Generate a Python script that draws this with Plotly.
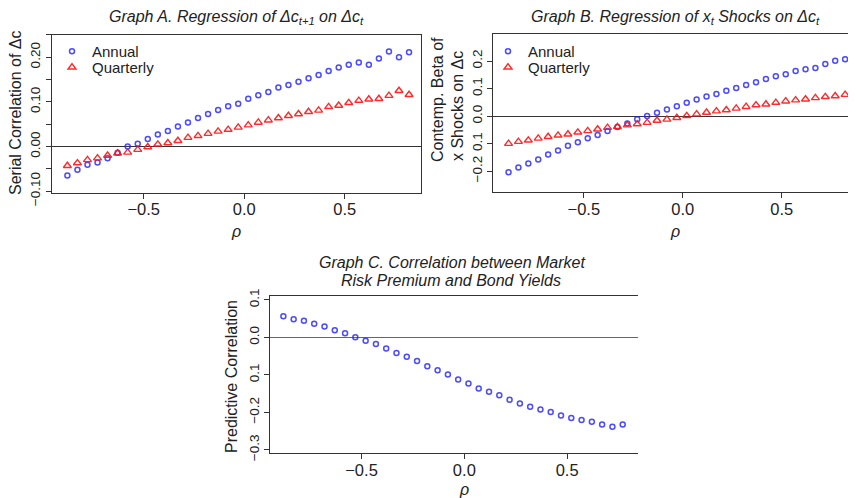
import plotly.graph_objects as go

# page body has an 8px margin, so the figure is sized to fill the rest of the window
W, H = 848, 490
OFF = 8

# ---------------- data ----------------
rho_ab = [-0.88, -0.83, -0.78, -0.73, -0.68, -0.63, -0.58, -0.53, -0.48, -0.43,
          -0.38, -0.33, -0.28, -0.23, -0.18, -0.13, -0.08, -0.03, 0.02, 0.07,
          0.12, 0.17, 0.22, 0.27, 0.32, 0.37, 0.42, 0.47, 0.52, 0.57,
          0.62, 0.67, 0.72, 0.77, 0.82]
rho_c = [-0.88, -0.83, -0.78, -0.73, -0.68, -0.63, -0.58, -0.53, -0.48, -0.43,
         -0.38, -0.33, -0.28, -0.23, -0.18, -0.13, -0.08, -0.03, 0.02, 0.07,
         0.12, 0.17, 0.22, 0.27, 0.32, 0.37, 0.42, 0.47, 0.52, 0.57,
         0.62, 0.67, 0.72, 0.77]

a_annual = [-0.065, -0.052, -0.041, -0.036, -0.026, -0.014, 0.000, 0.006, 0.017, 0.027,
            0.035, 0.045, 0.054, 0.064, 0.073, 0.082, 0.090, 0.096, 0.107, 0.115,
            0.122, 0.132, 0.138, 0.145, 0.153, 0.160, 0.169, 0.177, 0.183, 0.188,
            0.183, 0.197, 0.213, 0.200, 0.211]
a_quarterly = [-0.043, -0.037, -0.030, -0.026, -0.020, -0.015, -0.013, -0.007, -0.001, 0.005,
               0.008, 0.013, 0.020, 0.024, 0.029, 0.034, 0.038, 0.043, 0.048, 0.054,
               0.059, 0.064, 0.069, 0.073, 0.078, 0.081, 0.089, 0.092, 0.098, 0.103,
               0.106, 0.107, 0.114, 0.125, 0.116]

b_annual = [-0.204, -0.187, -0.172, -0.158, -0.140, -0.125, -0.108, -0.095, -0.081, -0.069,
            -0.054, -0.040, -0.027, -0.012, 0.000, 0.012, 0.024, 0.036, 0.048, 0.060,
            0.071, 0.080, 0.092, 0.102, 0.113, 0.123, 0.135, 0.145, 0.152, 0.164,
            0.170, 0.175, 0.189, 0.201, 0.206]
b_quarterly = [-0.100, -0.093, -0.088, -0.081, -0.075, -0.070, -0.066, -0.059, -0.054, -0.048,
               -0.042, -0.039, -0.033, -0.029, -0.024, -0.016, -0.012, -0.006, 0.001, 0.007,
               0.013, 0.018, 0.022, 0.028, 0.034, 0.040, 0.043, 0.049, 0.054, 0.058,
               0.061, 0.066, 0.070, 0.073, 0.078]

c_pred = [0.056, 0.048, 0.044, 0.036, 0.029, 0.019, 0.011, 0.000, -0.009, -0.018,
          -0.030, -0.042, -0.052, -0.063, -0.077, -0.088, -0.099, -0.112, -0.123, -0.136,
          -0.145, -0.154, -0.166, -0.176, -0.185, -0.192, -0.199, -0.208, -0.215, -0.220,
          -0.225, -0.232, -0.238, -0.232]

x_tickvals = [-0.5, 0.0, 0.5]
x_ticktext = ["\u22120.5", "0.0", "0.5"]
a_tickvals = [-0.10, 0.00, 0.10, 0.20]
a_ticktext = ["\u22120.10", "0.00", "0.10", "0.20"]
a_minorvals = [-0.05, 0.05, 0.15, 0.25]
b_tickvals = [-0.2, -0.1, 0.0, 0.1, 0.2]
b_ticktext = ["\u22120.2", "0.1", "0.0", "0.1", "0.2"]
c_tickvals = [-0.3, -0.2, -0.1, 0.0, 0.1]
c_ticktext = ["\u22120.3", "\u22120.2", "0.1", "0.0", "0.1"]

series_names = ["Annual", "Quarterly"]

# ---------------- styling ----------------
FONT = "Liberation Sans, Arial, Helvetica, sans-serif"
BLUE = "rgba(30,30,255,0.8)"
RED = "rgba(255,20,20,0.9)"
AX = "#333333"


def px_x(p):
    return (p - OFF) / W


def px_y(p):
    return 1 - (p - OFF) / H


fig = go.Figure()

circ = dict(symbol="circle-open", size=5, color=BLUE, line=dict(width=1.5, color=BLUE))
tri = dict(symbol="triangle-up-open", size=7, color=RED, line=dict(width=1.4, color=RED))

fig.add_trace(go.Scatter(x=rho_ab, y=a_annual, mode="markers", name=series_names[0],
                         marker=circ, xaxis="x", yaxis="y", legend="legend"))
fig.add_trace(go.Scatter(x=rho_ab, y=a_quarterly, mode="markers", name=series_names[1],
                         marker=tri, xaxis="x", yaxis="y", legend="legend3"))
fig.add_trace(go.Scatter(x=rho_ab, y=b_annual, mode="markers", name=series_names[0],
                         marker=circ, xaxis="x2", yaxis="y2", legend="legend2"))
fig.add_trace(go.Scatter(x=rho_ab, y=b_quarterly, mode="markers", name=series_names[1],
                         marker=tri, xaxis="x2", yaxis="y2", legend="legend4"))
fig.add_trace(go.Scatter(x=rho_c, y=c_pred, mode="markers", name=series_names[0],
                         marker=circ, xaxis="x3", yaxis="y3", showlegend=False))


def xax(domain, rng, anchor, mirror):
    return dict(domain=domain, range=rng, anchor=anchor, showline=True, linecolor=AX,
                linewidth=1, mirror=mirror, ticks="outside", ticklen=5, tickcolor=AX,
                tickvals=x_tickvals, ticktext=x_ticktext, showgrid=False, zeroline=False,
                automargin=False, ticklabelstandoff=-3,
                tickfont=dict(size=16.5, color="#222", family=FONT), fixedrange=True)


def yax(domain, rng, anchor, mirror, tv, tt, zc, minor=None):
    d = dict(domain=domain, range=rng, anchor=anchor, showline=True, linecolor=AX,
             linewidth=1, mirror=mirror, ticks="outside", ticklen=5, tickcolor=AX,
             tickvals=tv, ticktext=tt, tickangle=-90, showgrid=False, zeroline=True,
             zerolinecolor=zc, zerolinewidth=1, automargin=False,
             tickfont=dict(size=13.5, color="#222", family=FONT), fixedrange=True)
    if minor is not None:
        d["minor"] = dict(tickvals=minor, ticks="outside", ticklen=5, tickcolor=AX,
                          showgrid=False)
    return d


# panel boxes in reference-pixels
A_box = (51.7, 420.7, 34.5, 192.5)
B_box = (493.3, 856.0, 34.3, 192.3)
C_box = (270.0, 637.7, 295.7, 453.3)


def dom(b):
    return [px_x(b[0]), min(1.0, px_x(b[1]))], [px_y(b[3]), px_y(b[2])]


ax_, ay_ = dom(A_box)
bx_, by_ = dom(B_box)
cx_, cy_ = dom(C_box)


def leg(xp, yp):
    return dict(x=px_x(xp), y=px_y(yp), xanchor="left", yanchor="top",
                bgcolor="rgba(0,0,0,0)", font=dict(size=15, family=FONT, color="#222"),
                itemsizing="trace")


fig.update_layout(
    width=W, height=H, margin=dict(l=0, r=0, t=0, b=0),
    paper_bgcolor="white", plot_bgcolor="white",
    font=dict(family=FONT, color="#222", size=14),
    xaxis=xax(ax_, [-0.958, 0.878], "y", True),
    yaxis=yax(ay_, [-0.103, 0.251], "x", True, a_tickvals, a_ticktext, "#333", a_minorvals),
    xaxis2=xax(bx_, [-0.957, 0.875], "y2", True),
    yaxis2=yax(by_, [-0.277, 0.297], "x2", False, b_tickvals, b_ticktext, "#333"),
    xaxis3=xax(cx_, [-0.945, 0.843], "y3", True),
    yaxis3=yax(cy_, [-0.309, 0.111], "x3", False, c_tickvals, c_ticktext, "#666"),
    legend=leg(52, 35),
    legend3=leg(52, 51),
    legend2=leg(488, 35),
    legend4=leg(488, 51),
    showlegend=True,
)


def ann(text, x, y, size, angle=0):
    fig.add_annotation(text=text, x=px_x(x), y=px_y(y), xref="paper", yref="paper",
                       xanchor="center", yanchor="middle", showarrow=False,
                       textangle=angle, font=dict(size=size, family=FONT, color="#222"))


# titles
ann("<i>Graph A. Regression of \u0394c<sub>t+1</sub> on \u0394c<sub>t</sub></i>", 236, 17, 16)
ann("<i>Graph B. Regression of x<sub>t</sub> Shocks on \u0394c<sub>t</sub></i>", 675, 17, 16)
ann("<i>Graph C. Correlation between Market</i>", 452, 262, 16)
ann("<i>Risk Premium and Bond Yields</i>", 451, 280, 16)

# y-axis titles
ann("Serial Correlation of \u0394c", 15, 113, 16, angle=-90)
ann("Contemp. Beta of", 437, 100, 16, angle=-90)
ann("x Shocks on \u0394c", 458, 106, 16, angle=-90)
ann("Predictive Correlation", 231, 377, 16, angle=-90)

# x-axis titles
ann("<i>\u03c1</i>", 236, 231, 16)
ann("<i>\u03c1</i>", 675, 231, 16)
ann("<i>\u03c1</i>", 464, 489, 16)

fig.write_html("out.html")
